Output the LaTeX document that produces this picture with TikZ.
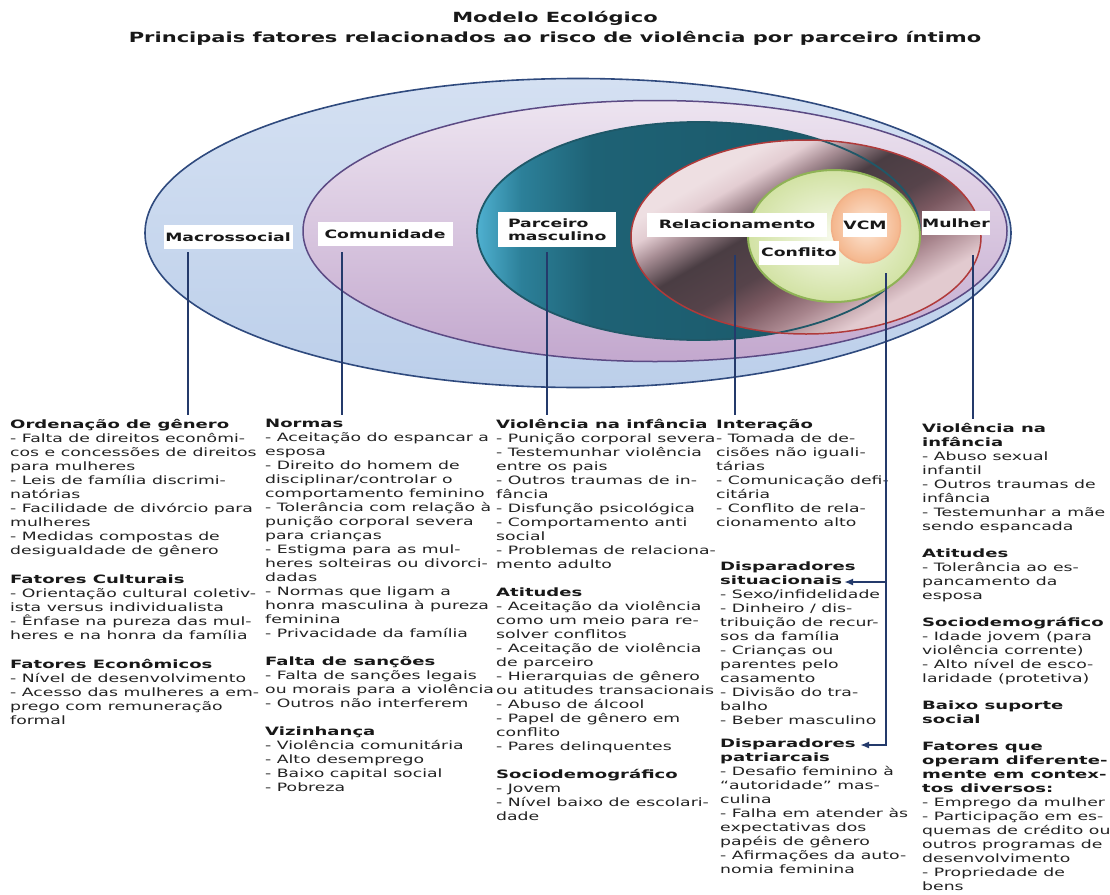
\documentclass[tikz,border=0pt]{standalone}
\usepackage{fontspec}
\setmainfont{DejaVu Sans}[FakeStretch=1.5]
\newfontfamily\headfont{DejaVu Sans}[FakeStretch=1.57]
\usetikzlibrary{arrows.meta}

\definecolor{navy}{HTML}{243A6B}
\definecolor{txt}{HTML}{222222}
\definecolor{hdr}{HTML}{181818}
\definecolor{outerTop}{HTML}{D4E0F2}
\definecolor{outerBot}{HTML}{BCCFEA}
\definecolor{outerLine}{HTML}{2F4A7E}
\definecolor{purTop}{HTML}{EDE4F0}
\definecolor{purBot}{HTML}{C3A8CE}
\definecolor{purLine}{HTML}{5B4A84}
\definecolor{tealA}{HTML}{4FB0D0}
\definecolor{tealB}{HTML}{2C8099}
\definecolor{tealC}{HTML}{1E6275}
\definecolor{tealD}{HTML}{1A5565}
\definecolor{tealLine}{HTML}{1F5868}
\definecolor{relA}{HTML}{EEDFE2}
\definecolor{relB}{HTML}{E3CDD2}
\definecolor{relC}{HTML}{A88E95}
\definecolor{relD}{HTML}{4A3D43}
\definecolor{relE}{HTML}{56434A}
\definecolor{relF}{HTML}{7A5860}
\definecolor{relG}{HTML}{A8858D}
\definecolor{relH}{HTML}{E2CACF}
\definecolor{relLine}{HTML}{B03A3A}
\definecolor{grIn}{HTML}{F7FAEC}
\definecolor{grOut}{HTML}{D2E2A4}
\definecolor{grLine}{HTML}{8FB356}
\definecolor{orIn}{HTML}{FDE8D8}
\definecolor{orOut}{HTML}{F4B68C}
\definecolor{orLine}{HTML}{F2B088}

% bold group heading inside the factor lists
\newcommand\colhead[1]{{\headfont\bfseries\color{hdr}#1}}

% shadings for the partner and relationship levels
\pgfdeclarehorizontalshading{tealsh}{100bp}{%
  color(0bp)=(tealA); color(25bp)=(tealA); color(30bp)=(tealB);
  color(38bp)=(tealC); color(75bp)=(tealD); color(100bp)=(tealD)}
\pgfdeclarehorizontalshading{relsh}{100bp}{%
  color(0bp)=(relA); color(30bp)=(relA); color(34bp)=(relB);
  color(38bp)=(relC); color(44bp)=(relD); color(52bp)=(relE);
  color(57bp)=(relF); color(63bp)=(relG); color(70bp)=(relH);
  color(100bp)=(relH)}

\begin{document}
\begin{tikzpicture}[x=1pt,y=-1pt,
  title/.style={font=\fontsize{14}{16}\selectfont\bfseries, text=hdr, inner sep=0pt},
  lbl/.style={fill=white, font=\fontsize{11.5}{13.5}\selectfont\bfseries,
    text=hdr, inner sep=0pt, minimum height=24pt},
  col/.style={anchor=north west, align=left, inner sep=0pt,
    font=\fontsize{11.5}{14}\selectfont, text=txt},
  conn/.style={draw=navy, line width=2pt},
  arr/.style={conn, -{Latex[length=9pt,width=7pt]}},
]
\useasboundingbox (0,0) rectangle (1110,894);

% ---------- title ----------
\node[title] (t1) at (555,18) {Modelo Ecológico};
\node[title] (t2) at (555,38) {Principais fatores relacionados ao risco de violência por parceiro íntimo};

% ---------- nested levels ----------
\shade[top color=outerTop, bottom color=outerBot, draw=outerLine, line width=1.6pt]
  (578,233) ellipse [x radius=433, y radius=154.5];
\shade[top color=purTop, bottom color=purBot, draw=purLine, line width=1.5pt]
  (655,231) ellipse [x radius=352, y radius=130.5];
\shade[shading=tealsh] (698.5,231) ellipse [x radius=221.5, y radius=109];
\shade[shading=relsh, shading angle=-60] (806,237) ellipse [x radius=175, y radius=97];
\draw[tealLine, line width=1.8pt] (698.5,231) ellipse [x radius=221.5, y radius=109];
\draw[relLine, line width=1.5pt] (806,237) ellipse [x radius=175, y radius=97];
\shade[inner color=grIn, outer color=grOut, draw=grLine, line width=2pt]
  (834,236) ellipse [x radius=86, y radius=66];
\shade[inner color=orIn, outer color=orOut, draw=orLine, line width=1.5pt]
  (866,226) ellipse [x radius=34.5, y radius=37];

% ---------- level labels ----------
\node[lbl, minimum width=129pt] (macro) at (228,237) {Macrossocial};
\node[lbl, minimum width=135pt] (comun) at (385,234) {Comunidade};
\node[lbl, align=left, text width=98pt, inner xsep=10pt, minimum height=35pt] (parc) at (557,229.5) {Parceiro\\masculino};
\node[lbl, minimum width=180pt] (rel) at (737,224.5) {Relacionamento};
\node[lbl, minimum width=43pt] (vcm) at (865,225) {VCM};
\node[lbl, minimum width=80pt] (conf) at (799,252.5) {Conflito};
\node[lbl, minimum width=68pt] (mul) at (956,223) {Mulher};

% ---------- factor lists ----------
\node[col] (c1) at (10,419) {%
\colhead{Ordenação de gênero}\\
- Falta de direitos econômi-\\
cos e concessões de direitos\\
para mulheres\\
- Leis de família discrimi-\\
natórias\\
- Facilidade de divórcio para\\
mulheres\\
- Medidas compostas de\\
desigualdade de gênero\\[15pt]
\colhead{Fatores Culturais}\\
- Orientação cultural coletiv-\\
ista versus individualista\\
- Ênfase na pureza das mul-\\
heres e na honra da família\\[15pt]
\colhead{Fatores Econômicos}\\
- Nível de desenvolvimento\\
- Acesso das mulheres a em-\\
prego com remuneração\\
formal};

\node[col] (c2) at (265,419) {%
\colhead{Normas}\\
- Aceitação do espancar a\\
esposa\\
- Direito do homem de\\
disciplinar/controlar o\\
comportamento feminino\\
- Tolerância com relação à\\
punição corporal severa\\
para crianças\\
- Estigma para as mul-\\
heres solteiras ou divorci-\\
dadas\\
- Normas que ligam a\\
honra masculina à pureza\\
feminina\\
- Privacidade da família\\[14pt]
\colhead{Falta de sanções}\\
- Falta de sanções legais\\
ou morais para a violência\\
- Outros não interferem\\[14pt]
\colhead{Vizinhança}\\
- Violência comunitária\\
- Alto desemprego\\
- Baixo capital social\\
- Pobreza};

\node[col] (c3) at (496,419) {%
\colhead{Violência na infância}\\
- Punição corporal severa\\
- Testemunhar violência\\
entre os pais\\
- Outros traumas de in-\\
fância\\
- Disfunção psicológica\\
- Comportamento anti\\
social\\
- Problemas de relaciona-\\
mento adulto\\[14pt]
\colhead{Atitudes}\\
- Aceitação da violência\\
como um meio para re-\\
solver conflitos\\
- Aceitação de violência\\
de parceiro\\
- Hierarquias de gênero\\
ou atitudes transacionais\\
- Abuso de álcool\\
- Papel de gênero em\\
conflito\\
- Pares delinquentes\\[14pt]
\colhead{Sociodemográfico}\\
- Jovem\\
- Nível baixo de escolari-\\
dade};

\node[col] (c4) at (716,419) {%
\colhead{Interação}\\
- Tomada de de-\\
cisões não iguali-\\
tárias\\
- Comunicação defi-\\
citária\\
- Conflito de rela-\\
cionamento alto};

\node[col] (c5) at (720,562) {%
\colhead{Disparadores}\\
\colhead{situacionais}\\
- Sexo/infidelidade\\
- Dinheiro / dis-\\
tribuição de recur-\\
sos da família\\
- Crianças ou\\
parentes pelo\\
casamento\\
- Divisão do tra-\\
balho\\
- Beber masculino\\[9pt]
\colhead{Disparadores}\\
\colhead{patriarcais}\\
- Desafio feminino à\\
“autoridade” mas-\\
culina\\
- Falha em atender às\\
expectativas dos\\
papéis de gênero\\
- Afirmações da auto-\\
nomia feminina};

\node[col] (c6) at (922,423) {%
\colhead{Violência na}\\
\colhead{infância}\\
- Abuso sexual\\
infantil\\
- Outros traumas de\\
infância\\
- Testemunhar a mãe\\
sendo espancada\\[13pt]
\colhead{Atitudes}\\
- Tolerância ao es-\\
pancamento da\\
esposa\\[13pt]
\colhead{Sociodemográfico}\\
- Idade jovem (para\\
violência corrente)\\
- Alto nível de esco-\\
laridade (protetiva)\\[13pt]
\colhead{Baixo suporte}\\
\colhead{social}\\[13pt]
\colhead{Fatores que}\\
\colhead{operam diferente-}\\
\colhead{mente em contex-}\\
\colhead{tos diversos:}\\
- Emprego da mulher\\
- Participação em es-\\
quemas de crédito ou\\
outros programas de\\
desenvolvimento\\
- Propriedade de\\
bens};

% ---------- connectors ----------
\coordinate (k1) at ([shift={(-40pt,-3pt)}]macro.south);
\coordinate (k2) at ([shift={(-43pt,-6pt)}]comun.south);
\coordinate (k3) at ([shift={(-10pt,-5pt)}]parc.south);
\coordinate (k4) at ([shift={(-2pt,-18pt)}]rel.south);
\coordinate (k5) at ([shift={(21pt,-36pt)}]vcm.south);
\coordinate (k6) at ([shift={(17pt,-20pt)}]mul.south);
\coordinate (a1) at ([shift={(124pt,-20pt)}]c5.north west);
\coordinate (a2) at ([shift={(140pt,-183pt)}]c5.north west);

\draw[conn, shorten >=4pt] (k1) -- (k1 |- c1.north);
\draw[conn, shorten >=4pt] (k2) -- (k2 |- c2.north);
\draw[conn, shorten >=4pt] (k3) -- (k3 |- c3.north);
\draw[conn, shorten >=4pt] (k4) -- (k4 |- c4.north);
\draw[conn, shorten >=4pt] (k6) -- (k6 |- c6.north);
\draw[arr] (k5) |- (a1);
\draw[arr] (k5) |- (a2);
\end{tikzpicture}
\end{document}
